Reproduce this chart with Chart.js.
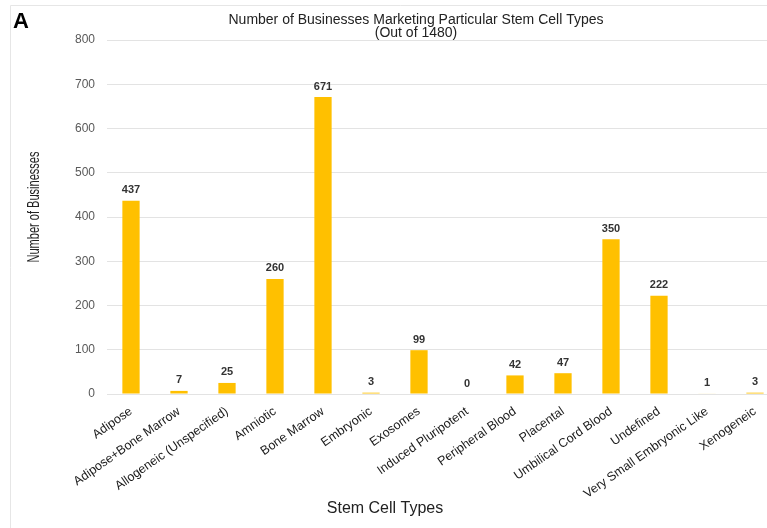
<!DOCTYPE html>
<html>
<head>
<meta charset="utf-8">
<script src="https://cdn.jsdelivr.net/npm/chart.js@4.4.1/dist/chart.umd.min.js"></script>
<style>
  html, body { margin: 0; padding: 0; background: #fff; overflow: hidden; }
  #wrap { width: 790px; height: 528px; }
</style>
</head>
<body>
<div id="wrap"><canvas id="stemChart"></canvas></div>
<script>
// stem cell types and number of businesses marketing each
const cellTypes = [
  'Adipose', 'Adipose+Bone Marrow', 'Allogeneic (Unspecified)', 'Amniotic',
  'Bone Marrow', 'Embryonic', 'Exosomes', 'Induced Pluripotent',
  'Peripheral Blood', 'Placental', 'Umbilical Cord Blood', 'Undefined',
  'Very Small Embryonic Like', 'Xenogeneic'
];
const businessCounts = [437, 7, 25, 260, 671, 3, 99, 0, 42, 47, 350, 222, 1, 3];
const yTicks = [0, 100, 200, 300, 400, 500, 600, 700, 800];

const FONT = "'Liberation Sans', Arial, sans-serif";

// panel frame, titles and value labels
const decorations = {
  id: 'decorations',
  beforeDraw(chart) {
    const c = chart.ctx;
    c.save();
    c.strokeStyle = '#e6e6e6';
    c.lineWidth = 1;
    c.beginPath();
    c.moveTo(10.5, 540);
    c.lineTo(10.5, 5.5);
    c.lineTo(800, 5.5);
    c.stroke();
    c.restore();
  },
  afterDatasetsDraw(chart) {
    const c = chart.ctx;
    c.save();
    // value above each bar
    c.fillStyle = '#333';
    c.font = 'bold 11px ' + FONT;
    c.textAlign = 'center';
    c.textBaseline = 'bottom';
    chart.getDatasetMeta(0).data.forEach((bar, i) => {
      c.fillText(String(businessCounts[i]), bar.x, bar.y - 5);
    });

    c.fillStyle = '#222';
    c.textBaseline = 'middle';
    c.font = '14px ' + FONT;
    c.fillText('Number of Businesses Marketing Particular Stem Cell Types', 416, 20);
    c.fillText('(Out of 1480)', 416, 33);

    c.font = '16px ' + FONT;
    c.fillText('Stem Cell Types', 385, 509);

    // panel letter
    c.fillStyle = '#000';
    c.font = 'bold 22px ' + FONT;
    c.textAlign = 'left';
    c.textBaseline = 'alphabetic';
    c.fillText('A', 13, 28);

    // condensed y axis title
    c.fillStyle = '#222';
    c.textAlign = 'center';
    c.textBaseline = 'middle';
    c.translate(35, 207);
    c.rotate(-Math.PI / 2);
    c.scale(0.69, 1);
    c.font = '16px ' + FONT;
    c.fillText('Number of Businesses', 0, 0);
    c.restore();
  }
};

new Chart(document.getElementById('stemChart'), {
  type: 'bar',
  data: {
    labels: cellTypes,
    datasets: [{
      data: businessCounts,
      backgroundColor: '#FFC000',
      borderWidth: 0,
      barPercentage: 0.36,
      categoryPercentage: 1
    }]
  },
  options: {
    responsive: true,
    maintainAspectRatio: false,
    animation: false,
    layout: { padding: { top: 40, right: 11, left: 0, bottom: 0 } },
    plugins: {
      legend: { display: false },
      tooltip: { enabled: false }
    },
    scales: {
      x: {
        grid: { display: false },
        border: { display: false },
        afterFit: scale => { scale.height = 134; },
        ticks: {
          color: '#1a1a1a',
          font: { family: FONT, size: 12.5 },
          minRotation: 35,
          maxRotation: 35,
          padding: 2,
          autoSkip: false
        }
      },
      y: {
        min: 0,
        max: 800,
        afterFit: scale => { scale.width = 107; },
        afterBuildTicks: scale => { scale.ticks = yTicks.map(v => ({ value: v })); },
        grid: { color: '#e3e3e3', drawTicks: false, lineWidth: 1 },
        border: { display: false },
        ticks: {
          color: '#595959',
          font: { family: FONT, size: 12 },
          padding: 12
        }
      }
    }
  },
  plugins: [decorations]
});
</script>
</body>
</html>
